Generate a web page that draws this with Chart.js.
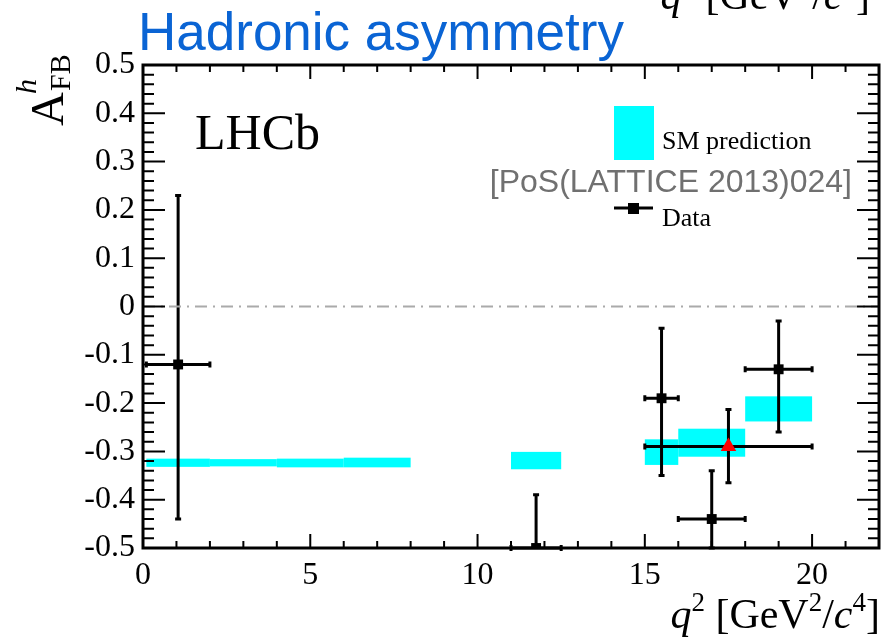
<!DOCTYPE html>
<html>
<head>
<meta charset="utf-8">
<script src="https://cdn.jsdelivr.net/npm/chart.js@4"></script>
<style>
  body { margin: 0; background: #ffffff; }
  canvas { display: block; }
</style>
</head>
<body>
<canvas id="afb-chart" width="889" height="639"></canvas>
<script>
// LHCb data: q2 bins, central values and asymmetric errors
const dataBinLo = [0.1, 11, 15, 16, 18];
const dataBinHi = [2.0, 12.5, 16, 18, 20];
const dataX = [1.05, 11.75, 15.5, 17.0, 19.0];
const dataY = [-0.12, -0.50, -0.19, -0.44, -0.13];
const dataErrUp = [0.35, 0.11, 0.145, 0.10, 0.10];
const dataErrDown = [0.32, 0.0, 0.16, 0.06, 0.13];

// 15-20 average (red triangle)
const avgBinLo = [15];
const avgBinHi = [20];
const avgX = [17.5];
const avgY = [-0.29];
const avgErrUp = [0.077];
const avgErrDown = [0.075];

// SM prediction boxes
const smLo = [0.1, 2, 4, 6, 11, 15, 16, 18];
const smHi = [2, 4, 6, 8, 12.5, 16, 18, 20];
const smMin = [-0.332, -0.331, -0.333, -0.333, -0.337, -0.328, -0.311, -0.238];
const smMax = [-0.315, -0.316, -0.315, -0.313, -0.301, -0.275, -0.253, -0.186];

const xTickValues = [0, 5, 10, 15, 20];
const yTickLabels = ["0.5", "0.4", "0.3", "0.2", "0.1", "0", "-0.1", "-0.2", "-0.3", "-0.4", "-0.5"];

const serif = "'Liberation Serif', 'DejaVu Serif', serif";
const sans = "'Liberation Sans', Arial, sans-serif";

function drawRuns(ctx, runs, x, y) {
    // runs: [text, size, italic, dy]
    let cx = x;
    for (let r of runs) {
        ctx.font = (r[2] ? "italic " : "") + r[1] + "px " + serif;
        ctx.fillText(r[0], cx, y + r[3]);
        cx += ctx.measureText(r[0]).width;
    }
    return cx - x;
}

function runsWidth(ctx, runs) {
    let w = 0;
    for (let r of runs) {
        ctx.font = (r[2] ? "italic " : "") + r[1] + "px " + serif;
        w += ctx.measureText(r[0]).width;
    }
    return w;
}

function drawErrorBars(ctx, xs, ys, lo, hi, up, down) {
    ctx.save();
    ctx.strokeStyle = "#000000";
    ctx.lineWidth = 3;
    for (let i = 0; i < xs.length; i++) {
        let px = xs[i], py = ys[i];
        let x = xScale.getPixelForValue(px);
        let y = yScale.getPixelForValue(py);
        let x1 = xScale.getPixelForValue(lo[i]);
        let x2 = xScale.getPixelForValue(hi[i]);
        let y1 = yScale.getPixelForValue(py + up[i]);
        let y2 = yScale.getPixelForValue(py - down[i]);
        ctx.beginPath();
        ctx.moveTo(x1, y); ctx.lineTo(x2, y);
        ctx.moveTo(x, y1); ctx.lineTo(x, y2);
        // end caps
        ctx.moveTo(x1, y - 3); ctx.lineTo(x1, y + 3);
        ctx.moveTo(x2, y - 3); ctx.lineTo(x2, y + 3);
        ctx.moveTo(x - 3, y1); ctx.lineTo(x + 3, y1);
        if (down[i] > 0) { ctx.moveTo(x - 3, y2); ctx.lineTo(x + 3, y2); }
        ctx.stroke();
    }
    ctx.restore();
}

let xScale, yScale;

const decorPlugin = {
    id: "decor",
    beforeDatasetsDraw(chart) {
        const ctx = chart.ctx;
        xScale = chart.scales.x;
        yScale = chart.scales.y;
        ctx.save();
        ctx.fillStyle = "#00ffff";
        for (let i = 0; i < smLo.length; i++) {
            let x1 = xScale.getPixelForValue(smLo[i]);
            let x2 = xScale.getPixelForValue(smHi[i]);
            let y1 = yScale.getPixelForValue(smMax[i]);
            let y2 = yScale.getPixelForValue(smMin[i]);
            ctx.fillRect(x1, y1, x2 - x1, y2 - y1);
        }
        ctx.restore();
        drawErrorBars(ctx, dataX, dataY, dataBinLo, dataBinHi, dataErrUp, dataErrDown);
        drawErrorBars(ctx, avgX, avgY, avgBinLo, avgBinHi, avgErrUp, avgErrDown);
    },
    afterDraw(chart) {
        const ctx = chart.ctx;
        const a = chart.chartArea;
        ctx.save();

        // ticks on all four sides
        ctx.strokeStyle = "#000000";
        ctx.lineWidth = 2;
        ctx.beginPath();
        for (let v = 0; v <= 22; v++) {
            let x = xScale.getPixelForValue(v);
            let len = (v % 5 == 0) ? 14 : 7;
            ctx.moveTo(x, a.bottom); ctx.lineTo(x, a.bottom - len);
            ctx.moveTo(x, a.top); ctx.lineTo(x, a.top + len);
        }
        for (let k = -25; k <= 25; k++) {
            let y = yScale.getPixelForValue(k * 0.02);
            let len = (k % 5 == 0) ? 22 : 11;
            ctx.moveTo(a.left, y); ctx.lineTo(a.left + len, y);
            ctx.moveTo(a.right, y); ctx.lineTo(a.right - len, y);
        }
        ctx.stroke();

        // frame
        ctx.lineWidth = 3;
        ctx.strokeRect(a.left, a.top, a.right - a.left, a.bottom - a.top);

        // title
        ctx.fillStyle = "#0a64d4";
        ctx.font = "53px " + sans;
        ctx.textBaseline = "alphabetic";
        ctx.textAlign = "left";
        ctx.fillText("Hadronic asymmetry", 138, 50);

        // LHCb label
        ctx.fillStyle = "#000000";
        ctx.font = "50px " + serif;
        ctx.fillText("LHCb", 195, 149);

        // legend
        ctx.fillStyle = "#00ffff";
        ctx.fillRect(614, 106, 40, 54);
        ctx.fillStyle = "#000000";
        ctx.font = "26px " + serif;
        ctx.fillText("SM prediction", 662, 149);
        ctx.fillText("Data", 662, 226);
        ctx.lineWidth = 3;
        ctx.beginPath();
        ctx.moveTo(614, 208); ctx.lineTo(653, 208);
        ctx.stroke();
        ctx.fillRect(628, 203, 11, 11);

        ctx.fillStyle = "#707070";
        ctx.font = "32px " + sans;
        ctx.textAlign = "right";
        ctx.fillText("[PoS(LATTICE 2013)024]", 852, 192);
        ctx.textAlign = "left";

        // x-axis title (bottom and the clipped copy at the top)
        ctx.fillStyle = "#000000";
        const xRuns = [["q", 42, true, 0], ["2", 27, false, -17], [" [GeV", 42, false, 0], ["2", 27, false, -17],
                       ["/", 42, false, 0], ["c", 42, true, 0], ["4", 27, false, -17], ["]", 42, false, 0]];
        let w = runsWidth(ctx, xRuns);
        drawRuns(ctx, xRuns, 880 - w, 628);
        drawRuns(ctx, xRuns, 870 - w, 9);

        // y-axis title, rotated
        ctx.translate(63, 126);
        ctx.rotate(-Math.PI / 2);
        ctx.font = "47px " + serif;
        ctx.fillText("A", 0, 0);
        let wA = ctx.measureText("A").width;
        ctx.font = "30px " + serif;
        ctx.fillText("FB", wA + 1, 7);
        ctx.font = "italic 30px " + serif;
        ctx.fillText("h", wA - 2, -27);
        ctx.restore();
    }
};

const ctx = document.getElementById("afb-chart").getContext("2d");

new Chart(ctx, {
    type: "scatter",
    data: {
        datasets: [
            {
                type: "line",
                data: [{ x: 0, y: 0 }, { x: 22, y: 0 }],
                borderColor: "#aaaaaa",
                borderWidth: 2,
                borderDash: [12, 6, 2, 6],
                pointRadius: 0
            },
            {
                data: dataX.map((x, i) => ({ x: x, y: dataY[i] })),
                pointStyle: "rect",
                pointRadius: 7,
                backgroundColor: "#000000",
                borderColor: "#000000",
                borderWidth: 0
            },
            {
                data: avgX.map((x, i) => ({ x: x, y: avgY[i] })),
                pointStyle: "triangle",
                pointRadius: 9,
                backgroundColor: "#ff0000",
                borderColor: "#ff0000",
                borderWidth: 0
            }
        ]
    },
    options: {
        responsive: false,
        animation: false,
        layout: { padding: { top: 65, right: 10, left: 0, bottom: 0 } },
        plugins: { legend: { display: false }, tooltip: { enabled: false } },
        scales: {
            x: {
                type: "linear",
                min: 0,
                max: 22,
                grid: { display: false, drawTicks: false },
                border: { display: false },
                afterFit: (scale) => { scale.height = 91; },
                afterBuildTicks: (scale) => { scale.ticks = xTickValues.map(v => ({ value: v })); },
                ticks: {
                    padding: 8,
                    color: "#000000",
                    font: { family: serif, size: 32 },
                    maxRotation: 0
                }
            },
            y: {
                min: -0.5,
                max: 0.5,
                grid: { display: false, drawTicks: false },
                border: { display: false },
                afterFit: (scale) => { scale.width = 143; },
                afterBuildTicks: (scale) => {
                    scale.ticks = yTickLabels.map(l => ({ value: parseFloat(l) }));
                },
                ticks: {
                    padding: 8,
                    color: "#000000",
                    font: { family: serif, size: 32 },
                    callback: (v) => yTickLabels.find(l => Math.abs(parseFloat(l) - v) < 1e-9)
                }
            }
        }
    },
    plugins: [decorPlugin]
});
</script>
</body>
</html>
